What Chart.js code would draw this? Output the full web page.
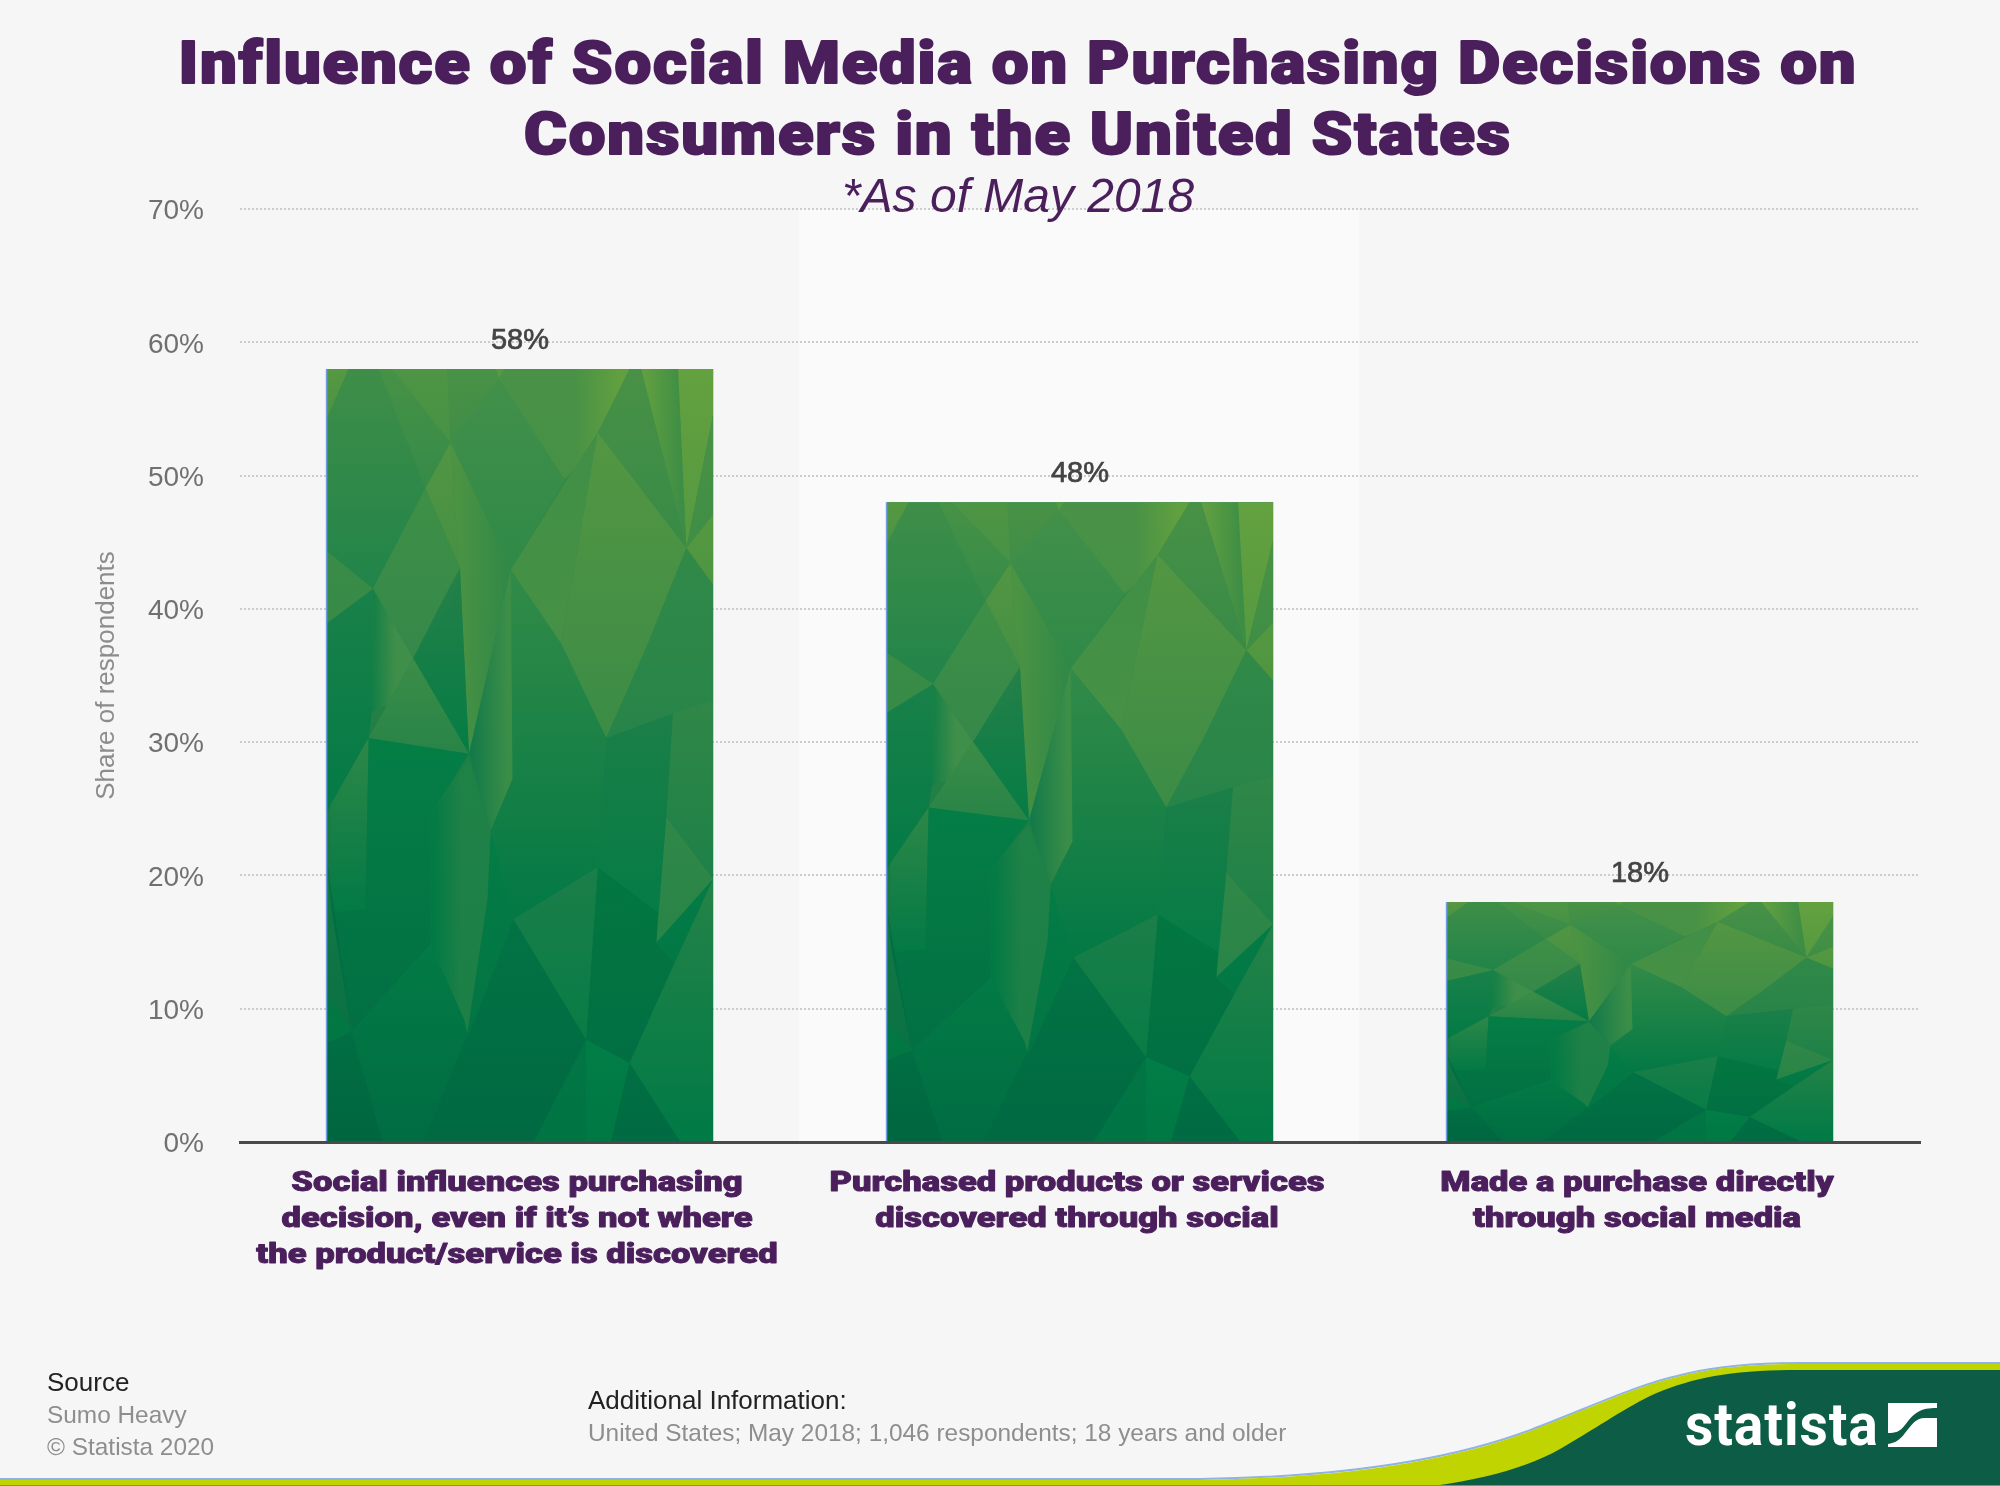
<!DOCTYPE html>
<html>
<head>
<meta charset="utf-8">
<script src="https://cdn.jsdelivr.net/npm/chart.js@4"></script>
<style>
html,body{margin:0;padding:0;background:#f6f6f6;width:2000px;height:1486px;overflow:hidden}
#c{position:absolute;left:0;top:0;width:2000px;height:1486px}
svg{position:absolute;left:0;top:0}
.t{position:absolute;white-space:nowrap;font-family:"Liberation Sans",Arial,sans-serif;line-height:30px}
.k{color:#222;font-size:26px}.g{color:#8e8e8e;font-size:24.4px}
#logo{position:absolute;left:1685px;top:1389px;font:700 60px/72px Roboto,sans-serif;color:#fff;transform-origin:left top;transform:scaleX(.92);letter-spacing:1px}
</style>
</head>
<body>
<svg width="2000" height="1486" viewBox="0 0 2000 1486">
  <path d="M0,1479 L1200,1479 C1340,1477 1450,1461 1533,1429 C1590,1407 1640,1384 1677,1376 C1710,1367 1750,1363 1800,1363 L2000,1363" fill="none" stroke="#8fb3e6" stroke-width="2"/>
  <path d="M0,1480 L1200,1480 C1340,1478 1450,1462 1533,1430 C1590,1408 1640,1385 1677,1377 C1710,1368 1750,1364 1800,1364 L2000,1364 L2000,1486 L0,1486 Z" fill="#bfd400"/>
  <path d="M1433,1486 C1490,1478 1530,1466 1560,1449 C1590,1432 1625,1408 1650,1396 C1690,1378 1730,1370 1800,1370 L2000,1370 L2000,1486 Z" fill="#0d5c46"/>
  <rect x="0" y="1485" width="2000" height="1" fill="#6f8f9f"/>
  <path d="M1888,1403 H1937 V1408 C1920,1408 1915,1412 1905,1425 C1900,1432 1895,1433 1888,1433 Z M1937,1418 H1925 C1915,1418 1912,1425 1905,1433 C1900,1440 1895,1443 1888,1444 V1447 H1937 Z" fill="#fff"/>
</svg>
<canvas id="c" width="2000" height="1486"></canvas>
<div class="t k" style="left:47px;top:1367px">Source</div>
<div class="t g" style="left:47px;top:1400px">Sumo Heavy</div>
<div class="t g" style="left:47px;top:1432px">© Statista 2020</div>
<div class="t k" style="left:588px;top:1385px">Additional Information:</div>
<div class="t g" style="left:588px;top:1418px">United States; May 2018; 1,046 respondents; 18 years and older</div>
<div id="logo">statista</div>
<script>
const titleLines = ["Influence of Social Media on Purchasing Decisions on", "Consumers in the United States"];
const subtitleText = "*As of May 2018";
const categories = [
  ["Social influences purchasing", "decision, even if it\u2019s not where", "the product/service is discovered"],
  ["Purchased products or services", "discovered through social"],
  ["Made a purchase directly", "through social media"]
];
const shareValues = [58, 48, 18];
const yAxisTitle = "Share of respondents";

const PURPLE = "#4a1f5c";
/* Low-poly bar texture, in a 1155 x 2308 unit tile stretched onto each bar */
const TEX_X0 = 10, TEX_Y0 = 15, TEX_W = 1155, TEX_H = 2308;
const facets = [
 {p:[10,15,1165,15,1165,2323,10,2323],c:["#3f8f48","#006c42"]},
 {p:[10,15,75,15,10,165],c:["#5a9a40","#4c9343"]},
 {p:[75,15,165,15,305,372,148,672,10,560,10,165],c:["#3f8e48","#1f844a"]},
 {p:[165,15,205,15,380,235,305,372],c:["#489246","#358b48"]},
 {p:[205,15,370,15,380,235],c:["#509644","#4a9345"]},
 {p:[370,15,515,15,525,45,380,235],c:["#4a9246","#418e47"]},
 {p:[515,15,540,15,525,45],c:["#5c9c40","#589a41"]},
 {p:[525,45,540,15,915,15,820,205,745,320,720,345],c:["#4a9246","#68a33e"],h:[750,885]},
 {p:[525,45,720,345,560,615,515,520,380,235],c:["#43904a","#2f8a48"]},
 {p:[380,235,390,400,408,610,305,372],c:["#559742","#4a9244"]},
 {p:[380,235,515,520,560,615,500,880,435,1165,408,610,390,400],c:["#4f9543","#338a47"],h:[400,540]},
 {p:[305,372,408,610,380,720,268,880,148,672],c:["#409046","#37894a"]},
 {p:[408,610,435,1165,268,880,360,700],c:["#237f48","#007c45"]},
 {p:[10,775,148,672,145,1040,135,1118,105,1170,10,1340],c:["#16804a","#007a45"]},
 {p:[148,672,268,880,190,1020,145,1040],c:["#0b7d45","#43904a"],h:[140,215]},
 {p:[10,560,148,672,10,775],c:["#3b8d47","#3a8c47"]},
 {p:[268,880,435,1165,135,1118],c:["#3f8f48","#298547"]},
 {p:[820,205,775,460,710,835,560,615,745,320],c:["#429047","#4a9345"]},
 {p:[820,205,1085,550,960,860,845,1118,710,835],c:["#589841","#3f8e47"]},
 {p:[1085,550,1165,660,1165,1005,845,1118,960,860],c:["#318a48","#288549"]},
 {p:[915,15,950,15,1085,550,820,205],c:["#4a9146","#398b47"]},
 {p:[950,15,1060,15,1085,550],c:["#66a23f","#3f8e45"],h:[960,1070]},
 {p:[1060,15,1165,15,1165,150,1085,550],c:["#6aa43e","#5a9c40"]},
 {p:[1165,150,1165,450,1085,550],c:["#4c9345","#418f46"]},
 {p:[1085,550,1165,450,1165,660],c:["#5a9b40","#54973f"]},
 {p:[560,615,710,835,845,1118,820,1505,568,1660,500,1395,565,1240],c:["#338c48","#007945"]},
 {p:[560,615,565,1240,500,1395,435,1165],c:["#10794a","#3f9048"],h:[440,550]},
 {p:[845,1118,1045,1045,1025,1355,995,1730,820,1505],c:["#1a7f48","#007c46"]},
 {p:[1045,1045,1165,1005,1165,1540,1025,1355],c:["#328848","#1f8248"]},
 {p:[1025,1355,1165,1540,995,1730],c:["#348a48","#2c8748"]},
 {p:[820,1505,1000,1640,995,1730,1050,1790,915,2090,785,2020],c:["#00773f","#006f43"]},
 {p:[995,1730,1165,1540,1050,1790],c:["#007c46","#007a45"]},
 {p:[568,1660,820,1505,785,2020],c:["#1c7f49","#087e47"]},
 {p:[1165,1540,1165,2323,1065,2323,915,2090,1050,1790],c:["#278448","#007c47"]},
 {p:[785,2020,915,2090,860,2323,785,2323],c:["#008047","#007a45"]},
 {p:[915,2090,1065,2323,860,2323],c:["#006e43","#006b42"]},
 {p:[785,2020,785,2323,630,2323],c:["#007744","#007544"]},
 {p:[568,1660,785,2020,630,2323,300,2323,430,2000],c:["#007244","#006942"]},
 {p:[500,1395,568,1660,430,2020,490,1600],c:["#007d46","#007644"]},
 {p:[435,1180,500,1395,490,1600,430,2000,420,1960,320,1735,320,1350],c:["#007a44","#1f8247"],h:[330,410]},
 {p:[135,1118,125,1630,25,1640,20,1320],c:["#2f8948","#007a45"]},
 {p:[135,1118,435,1165,320,1350,320,1735,85,1995,25,1640,125,1630],c:["#007e46","#006f43"]},
 {p:[85,1995,320,1735,420,1960,430,2000,300,2323,175,2323],c:["#007c46","#006c42"]},
 {p:[10,2030,85,1995,175,2323,10,2323],c:["#006e43","#006540"]},
 {p:[10,1480,85,1995,25,1640],c:["#006e43","#006b42"]},
 {p:[10,1890,85,1995,10,2030],c:["#007843","#007843"]}
];

function drawTexture(ctx, bar){
  const left = bar.x - bar.width/2, w = bar.width, top = bar.y, h = bar.base - bar.y;
  const X = u => left + (u-TEX_X0)/TEX_W*w, Y = v => top + (v-TEX_Y0)/TEX_H*h;
  ctx.save();
  ctx.beginPath(); ctx.rect(left, top, w, h); ctx.clip();
  facets.forEach((f,n)=>{
    const xs=[],ys=[];
    for(let i=0;i<f.p.length;i+=2){xs.push(X(f.p[i]));ys.push(Y(f.p[i+1]));}
    const g = f.h ? ctx.createLinearGradient(X(f.h[0]),0,X(f.h[1]),0)
                  : ctx.createLinearGradient(0,Math.min(...ys),0,Math.max(...ys));
    g.addColorStop(0,f.c[0]); g.addColorStop(1,f.c[1]);
    ctx.globalAlpha = n ? .86 : 1;
    ctx.beginPath(); xs.forEach((x,i)=> i?ctx.lineTo(x,ys[i]):ctx.moveTo(x,ys[i])); ctx.closePath();
    ctx.fillStyle=g; ctx.fill();
  });
  ctx.restore();
  ctx.fillStyle="#6f9ee6"; ctx.fillRect(left-1,top,1.5,h);
}

/* Heavier, wider glyphs: each line is stretched around its own anchor and outlined */
function withHeavyText(ctx, sx, sw, spacing, fn){
  const fill = ctx.fillText, stroke = ctx.strokeText;
  ctx.save();
  if(spacing) ctx.letterSpacing = spacing;
  ctx.fillText = function(t,x,y){
    ctx.save(); ctx.translate(x,y); ctx.scale(sx,1);
    fill.call(ctx,t,0,0);
    ctx.lineWidth=sw; ctx.lineJoin="round"; ctx.strokeStyle=ctx.fillStyle;
    stroke.call(ctx,t,0,0);
    ctx.restore();
  };
  fn();
  delete ctx.fillText;
  ctx.restore();
}

const chromePlugin = {
  id:"chrome",
  afterLayout(chart){
    for(const b of chart.boxes){
      if(b.options && b.options.text!==undefined && b.position==="top" && !b.id){
        b.left=36; b.right=2000;
        if(!b.__wrapped && Array.isArray(b.options.text)){
          const d=b.draw.bind(b);
          b.draw=function(){withHeavyText(b.ctx,1.09,2,"1.6px",d);};
          b.__wrapped=true;
        }
      }
    }
    const x=chart.scales.x;
    if(!x.__wrapped){
      const dl=x.drawLabels.bind(x);
      x.drawLabels=function(a){withHeavyText(x.ctx,1.235,.9,"",()=>dl(a));};
      x.__wrapped=true;
    }
  },
  beforeDraw(chart){
    const {ctx,scales:{x,y}}=chart;
    const half=(x.getPixelForValue(1)-x.getPixelForValue(0))/2;
    const cx=x.getPixelForValue(1);
    ctx.save();
    ctx.fillStyle="#fafafa";
    ctx.fillRect(cx-half-1,y.getPixelForValue(70),half*2,y.getPixelForValue(0)-y.getPixelForValue(70));
    ctx.restore();
  },
  afterDatasetsDraw(chart){
    const ctx=chart.ctx, meta=chart.getDatasetMeta(0);
    meta.data.forEach((bar,i)=>{
      drawTexture(ctx,bar);
      ctx.save();
      ctx.font='29px "Liberation Sans"';
      ctx.fillStyle="#444"; ctx.strokeStyle="#444"; ctx.lineWidth=.7;
      ctx.textAlign="center"; ctx.textBaseline="middle";
      const s=shareValues[i]+"%";
      ctx.fillText(s,bar.x,bar.y-28); ctx.strokeText(s,bar.x,bar.y-28);
      ctx.restore();
    });
  }
};

new Chart(document.getElementById("c"),{
  type:"bar",
  data:{labels:categories,datasets:[{data:shareValues,backgroundColor:"#1f8348",borderWidth:0,barPercentage:.69,categoryPercentage:1}]},
  plugins:[chromePlugin],
  options:{
    responsive:false,animation:false,devicePixelRatio:1,
    layout:{padding:{left:0,right:80,top:0,bottom:0}},
    plugins:{
      legend:{display:false},tooltip:{enabled:false},
      title:{display:true,text:titleLines,color:PURPLE,align:"center",
        font:{family:"Roboto",weight:900,size:60,lineHeight:"71px"},padding:{top:32,bottom:0}},
      subtitle:{display:true,text:subtitleText,color:PURPLE,align:"center",
        font:{family:"Liberation Sans",style:"italic",weight:400,size:48,lineHeight:"46px"},padding:{top:2,bottom:-13}}
    },
    scales:{
      x:{
        afterFit(s){s.height=344;},
        grid:{display:false,drawTicks:false},
        border:{display:true,color:"#4a4a4a",width:3,z:1},
        ticks:{color:PURPLE,font:{family:"Roboto",weight:900,size:28,lineHeight:"36px"},padding:24,labelOffset:-3,maxRotation:0,minRotation:0,autoSkip:false}
      },
      y:{
        min:0,max:70,
        afterFit(s){s.width=240;},
        grid:{color:"#cccccc",lineWidth:2,drawTicks:false},
        border:{display:false,dash:[2,2]},
        ticks:{stepSize:10,color:"#707070",padding:36,labelOffset:2.5,font:{family:"Liberation Sans",size:28},callback:v=>v+"%"},
        title:{display:true,text:yAxisTitle,color:"#8c8c8c",font:{family:"Liberation Sans",size:26,lineHeight:1.2},padding:{top:91,bottom:0}}
      }
    }
  }
});
</script>
</body>
</html>
